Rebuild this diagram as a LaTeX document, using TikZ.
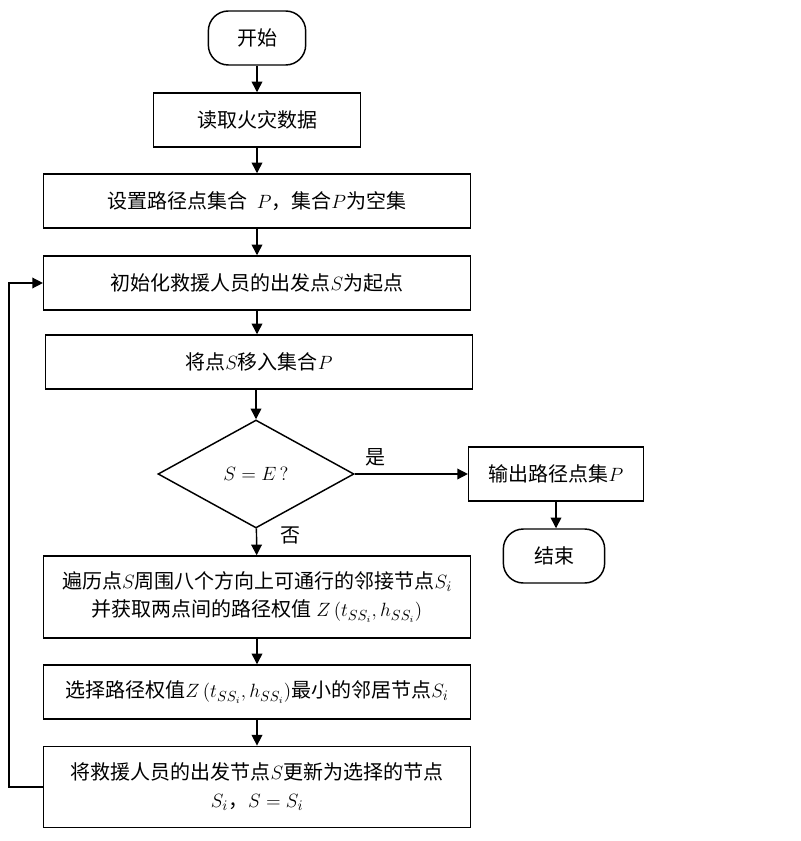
\documentclass[tikz,border=0pt]{standalone}
\usepackage{fontspec}
\setmainfont{Noto Sans CJK SC}
\usetikzlibrary{shapes.geometric, arrows.meta}

\begin{document}
\begin{tikzpicture}[x=0.75pt, y=-0.75pt, font=\fontsize{15}{21}\selectfont,
        box/.style={draw, line width=1.1pt, minimum width=320pt, minimum height=40.5pt, align=center, inner sep=2pt},
        term/.style={draw, line width=1.1pt, rounded corners=15pt, minimum height=40.5pt},
        decide/.style={draw, diamond, line width=1.1pt, minimum width=147pt, minimum height=81pt, inner sep=0pt},
        flow/.style={line width=1.1pt, -{Triangle[length=8pt,width=8pt]}}]
        \useasboundingbox (0,0) rectangle (800,841);

        \node[term, minimum width=73pt] (start) at (257,38) {开始};
        \node[box, minimum width=155pt] (read) at (257,120) {读取火灾数据};
        \node[box] (setP) at (257,201) {设置路径点集合\ \ $P$，集合$P$为空集};
        \node[box] (init) at (257,283) {初始化救援人员的出发点$S$为起点};
        \node[box] (moveS) at (259,362) {将点$S$移入集合$P$};
        \node[decide] (check) at (256,474) {$S=E\,?$};
        \node[box, minimum width=131pt] (output) at (556,474) {输出路径点集$P$};
        \node[term, minimum width=76pt] (end) at (554,556) {结束};
        \node[box, minimum height=61.5pt] (travel) at (257,597) {遍历点$S$周围八个方向上可通行的邻接节点$S_i$\\并获取两点间的路径权值\ $Z\left(t_{SS_i},h_{SS_i}\right)$};
        \node[box] (select) at (257,692) {选择路径权值$Z\left(t_{SS_i},h_{SS_i}\right)$最小的邻居节点$S_i$};
        \node[box, minimum height=61pt] (update) at (257,787) {将救援人员的出发节点$S$更新为选择的节点\\$S_i$，$S=S_i$};

        \draw[flow] (start) -- (read);
        \draw[flow] (read) -- (setP);
        \draw[flow] (setP) -- (init);
        \draw[flow] (init) -- (init |- moveS.north);
        \draw[flow] (moveS.south -| check) -- (check);
        \draw[flow] (check) -- node[above, pos=0.18, yshift=2pt] {是} (output);
        \draw[flow] (output) -- (output |- end.north);
        \draw[flow] (check) -- node[right, pos=0.25, xshift=14pt] {否} (travel);
        \draw[flow] (travel) -- (select);
        \draw[flow] (select) -- (update);

        \coordinate (loop) at (9,787);
        \draw[flow] (update.west) -- (update.west -| loop) |- (init.west);
\end{tikzpicture}
\end{document}
